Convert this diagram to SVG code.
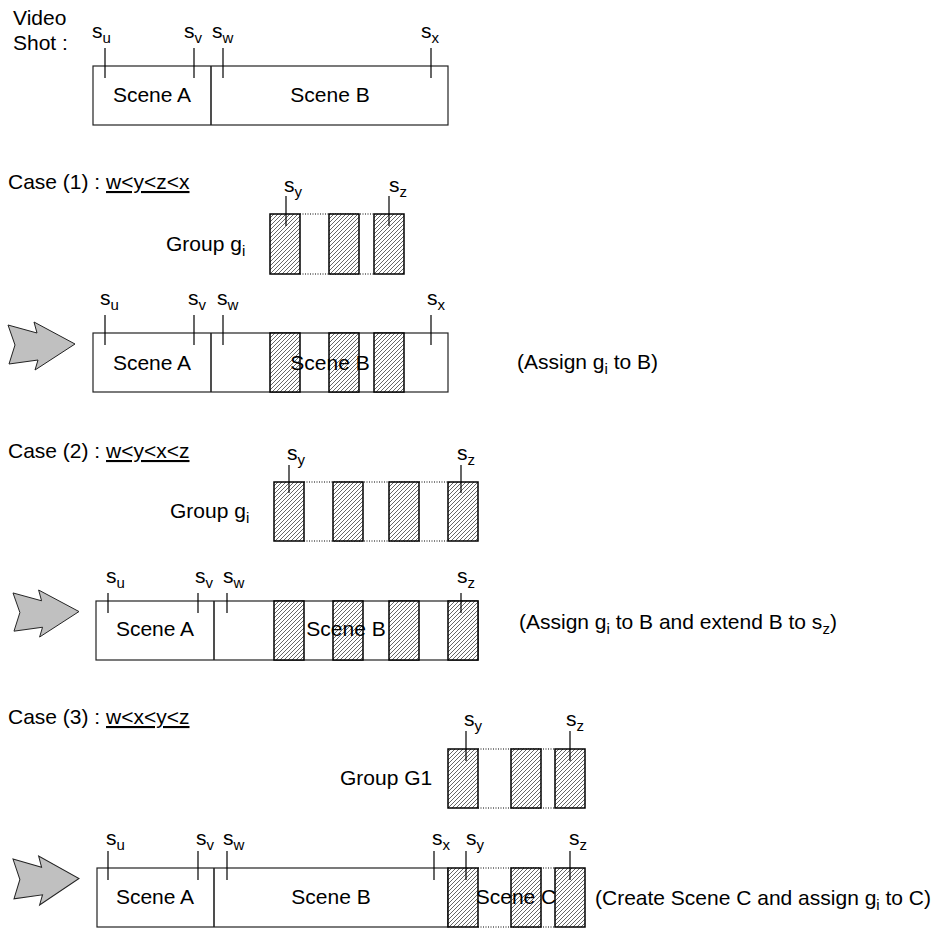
<svg xmlns="http://www.w3.org/2000/svg" width="941" height="930" viewBox="0 0 941 930">
  <style>
    text { font-family: "Liberation Sans", Arial, sans-serif; font-size: 21px; fill: #000; }
    .mid { text-anchor: middle; }
    .sub { font-size: 15px; }
    .box { fill: #fff; stroke: #222; stroke-width: 1.2; }
    .div { stroke: #222; stroke-width: 1.6; }
    .tick { stroke: #000; stroke-width: 1.2; }
    .hatch { fill: url(#hatch); stroke: #000; stroke-width: 1.5; }
    .dot { stroke: #000; stroke-width: 1; stroke-dasharray: 1 1.5; fill: none; }
    .big-arrow { fill: #c0c0c0; stroke: #222; stroke-width: 1; stroke-linejoin: miter; }
  </style>
  <defs>
    <pattern id="hatch" patternUnits="userSpaceOnUse" width="4" height="4">
      <rect width="4" height="4" fill="#fff"/>
      <path d="M-1,1 L1,-1 M0,4 L4,0 M3,5 L5,3" stroke="#000" stroke-width="0.6"/>
    </pattern>
    <polygon id="arrow-shape" class="big-arrow" points="0,3 29,11 26,0 67,22 27,48 30,38 1,42 7,23"/>
  </defs>

  <!-- Video shot with scenes A and B -->
  <g id="video-shot">
    <text x="13" y="25">Video</text>
    <text x="13" y="50">Shot :</text>
    <rect class="box" x="93" y="66" width="355" height="59"/>
    <line class="div" x1="211" y1="66" x2="211" y2="125"/>
    <line class="tick" x1="105" y1="48" x2="105" y2="78"/>
    <line class="tick" x1="194" y1="48" x2="194" y2="78"/>
    <line class="tick" x1="223" y1="48" x2="223" y2="78"/>
    <line class="tick" x1="431" y1="48" x2="431" y2="78"/>
    <text x="92" y="38">s<tspan class="sub" dy="5">u</tspan></text>
    <text x="184" y="38">s<tspan class="sub" dy="5">v</tspan></text>
    <text x="212" y="38">s<tspan class="sub" dy="5">w</tspan></text>
    <text x="421" y="38">s<tspan class="sub" dy="5">x</tspan></text>
    <text class="mid" x="152" y="102">Scene A</text>
    <text class="mid" x="330" y="102">Scene B</text>
  </g>

  <!-- Case 1 -->
  <g id="case1-title">
    <text x="8" y="189">Case (1) : <tspan text-decoration="underline">w&lt;y&lt;z&lt;x</tspan></text>
  </g>
  <g id="case1-group">
    <text x="166" y="251">Group g<tspan class="sub" dy="5">i</tspan></text>
    <line class="dot" x1="300" y1="214" x2="374" y2="214"/>
    <line class="dot" x1="300" y1="274" x2="374" y2="274"/>
    <rect class="hatch" x="270" y="214" width="30" height="60"/>
    <rect class="hatch" x="329" y="214" width="30" height="60"/>
    <rect class="hatch" x="374" y="214" width="30" height="60"/>
    <line class="tick" x1="286" y1="196" x2="286" y2="226"/>
    <line class="tick" x1="389" y1="196" x2="389" y2="226"/>
    <text x="284" y="192">s<tspan class="sub" dy="5">y</tspan></text>
    <text x="389" y="192">s<tspan class="sub" dy="5">z</tspan></text>
  </g>
  <g id="case1-result">
    <rect class="box" x="93" y="333" width="355" height="59"/>
    <line class="div" x1="211" y1="333" x2="211" y2="392"/>
    <rect class="hatch" x="270" y="333" width="30" height="59"/>
    <rect class="hatch" x="329" y="333" width="30" height="59"/>
    <rect class="hatch" x="374" y="333" width="30" height="59"/>
    <line class="tick" x1="105" y1="315" x2="105" y2="345"/>
    <line class="tick" x1="194" y1="315" x2="194" y2="345"/>
    <line class="tick" x1="223" y1="315" x2="223" y2="345"/>
    <line class="tick" x1="431" y1="315" x2="431" y2="345"/>
    <text x="100" y="305">s<tspan class="sub" dy="5">u</tspan></text>
    <text x="188" y="305">s<tspan class="sub" dy="5">v</tspan></text>
    <text x="217" y="305">s<tspan class="sub" dy="5">w</tspan></text>
    <text x="427" y="305">s<tspan class="sub" dy="5">x</tspan></text>
    <text class="mid" x="152" y="370">Scene A</text>
    <text class="mid" x="330" y="370">Scene B</text>
    <text x="517" y="369">(Assign g<tspan class="sub" dy="5">i</tspan><tspan dy="-5"> to B)</tspan></text>
  </g>

  <!-- Case 2 -->
  <g id="case2-title">
    <text x="8" y="458">Case (2) : <tspan text-decoration="underline">w&lt;y&lt;x&lt;z</tspan></text>
  </g>
  <g id="case2-group">
    <text x="170" y="518">Group g<tspan class="sub" dy="5">i</tspan></text>
    <line class="dot" x1="304" y1="482" x2="448" y2="482"/>
    <line class="dot" x1="304" y1="541" x2="448" y2="541"/>
    <rect class="hatch" x="274" y="482" width="30" height="59"/>
    <rect class="hatch" x="333" y="482" width="30" height="59"/>
    <rect class="hatch" x="389" y="482" width="30" height="59"/>
    <rect class="hatch" x="448" y="482" width="30" height="59"/>
    <line class="tick" x1="289" y1="465" x2="289" y2="493"/>
    <line class="tick" x1="461" y1="465" x2="461" y2="493"/>
    <text x="287" y="460">s<tspan class="sub" dy="5">y</tspan></text>
    <text x="457" y="460">s<tspan class="sub" dy="5">z</tspan></text>
  </g>
  <g id="case2-result">
    <rect class="box" x="96" y="601" width="382" height="59"/>
    <line class="div" x1="214" y1="601" x2="214" y2="660"/>
    <rect class="hatch" x="274" y="601" width="30" height="59"/>
    <rect class="hatch" x="333" y="601" width="30" height="59"/>
    <rect class="hatch" x="389" y="601" width="30" height="59"/>
    <rect class="hatch" x="448" y="601" width="30" height="59"/>
    <line class="tick" x1="108" y1="593" x2="108" y2="613"/>
    <line class="tick" x1="198" y1="593" x2="198" y2="613"/>
    <line class="tick" x1="227" y1="593" x2="227" y2="613"/>
    <line class="tick" x1="461" y1="593" x2="461" y2="613"/>
    <text x="106" y="583">s<tspan class="sub" dy="5">u</tspan></text>
    <text x="195" y="583">s<tspan class="sub" dy="5">v</tspan></text>
    <text x="223" y="583">s<tspan class="sub" dy="5">w</tspan></text>
    <text x="457" y="583">s<tspan class="sub" dy="5">z</tspan></text>
    <text class="mid" x="155" y="636">Scene A</text>
    <text class="mid" x="346" y="636">Scene B</text>
    <text x="519" y="629">(Assign g<tspan class="sub" dy="5">i</tspan><tspan dy="-5"> to B and extend B to s</tspan><tspan class="sub" dy="5">z</tspan><tspan dy="-5">)</tspan></text>
  </g>

  <!-- Case 3 -->
  <g id="case3-title">
    <text x="8" y="724">Case (3) : <tspan text-decoration="underline">w&lt;x&lt;y&lt;z</tspan></text>
  </g>
  <g id="case3-group">
    <text x="340" y="785">Group G1</text>
    <line class="dot" x1="478" y1="749" x2="555" y2="749"/>
    <line class="dot" x1="478" y1="808" x2="555" y2="808"/>
    <rect class="hatch" x="448" y="749" width="30" height="59"/>
    <rect class="hatch" x="511" y="749" width="30" height="59"/>
    <rect class="hatch" x="555" y="749" width="30" height="59"/>
    <line class="tick" x1="466" y1="731" x2="466" y2="761"/>
    <line class="tick" x1="570" y1="731" x2="570" y2="761"/>
    <text x="464" y="726">s<tspan class="sub" dy="5">y</tspan></text>
    <text x="566" y="726">s<tspan class="sub" dy="5">z</tspan></text>
  </g>
  <g id="case3-result">
    <rect class="box" x="97" y="868" width="351" height="59"/>
    <line class="div" x1="214" y1="868" x2="214" y2="927"/>
    <line class="dot" x1="478" y1="868" x2="555" y2="868"/>
    <line class="dot" x1="478" y1="927" x2="555" y2="927"/>
    <rect class="hatch" x="448" y="868" width="30" height="59"/>
    <rect class="hatch" x="511" y="868" width="30" height="59"/>
    <rect class="hatch" x="555" y="868" width="30" height="59"/>
    <line class="tick" x1="108" y1="851" x2="108" y2="880"/>
    <line class="tick" x1="198" y1="851" x2="198" y2="880"/>
    <line class="tick" x1="227" y1="851" x2="227" y2="880"/>
    <line class="tick" x1="434" y1="851" x2="434" y2="880"/>
    <line class="tick" x1="466" y1="851" x2="466" y2="880"/>
    <line class="tick" x1="570" y1="851" x2="570" y2="880"/>
    <text x="106" y="845">s<tspan class="sub" dy="5">u</tspan></text>
    <text x="196" y="845">s<tspan class="sub" dy="5">v</tspan></text>
    <text x="223" y="845">s<tspan class="sub" dy="5">w</tspan></text>
    <text x="432" y="845">s<tspan class="sub" dy="5">x</tspan></text>
    <text x="466" y="845">s<tspan class="sub" dy="5">y</tspan></text>
    <text x="569" y="845">s<tspan class="sub" dy="5">z</tspan></text>
    <text class="mid" x="155" y="904">Scene A</text>
    <text class="mid" x="331" y="904">Scene B</text>
    <text class="mid" x="516" y="904">Scene C</text>
    <text x="595" y="905">(Create Scene C and assign g<tspan class="sub" dy="5">i</tspan><tspan dy="-5"> to C)</tspan></text>
  </g>

  <!-- Transition arrows leading into each result -->
  <g id="connectors">
    <use href="#arrow-shape" transform="translate(8,322)"/>
    <use href="#arrow-shape" transform="translate(13,590) scale(0.985,0.98)"/>
    <use href="#arrow-shape" transform="translate(13,856) scale(0.985,1.02)"/>
  </g>
</svg>
